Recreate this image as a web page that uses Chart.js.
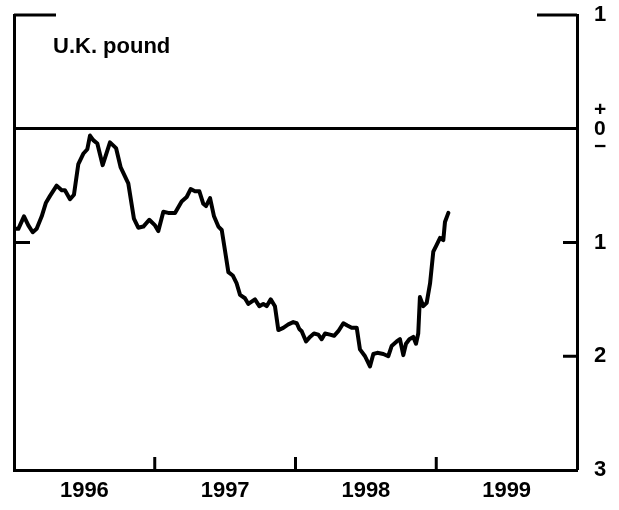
<!DOCTYPE html>
<html>
<head>
<meta charset="utf-8">
<title>U.K. pound</title>
<script src="https://cdn.jsdelivr.net/npm/chart.js@4.4.1/dist/chart.umd.min.js"></script>
<style>
  html, body { margin: 0; padding: 0; background: #fff; }
  #wrap { width: 619px; height: 510px; }
</style>
</head>
<body>
<div id="wrap"><canvas id="chart"></canvas></div>
<script>
// Series: time in decimal years, value in percent
const dates = [
  1996.007, 1996.031, 1996.071, 1996.102, 1996.133, 1996.161, 1996.197, 1996.227, 1996.256, 1996.303,
  1996.339, 1996.362, 1996.398, 1996.426, 1996.457, 1996.492, 1996.521, 1996.540, 1996.563, 1996.592,
  1996.630, 1996.682, 1996.725, 1996.758, 1996.812, 1996.852, 1996.883, 1996.919, 1996.961, 1997.002,
  1997.025, 1997.061, 1997.096, 1997.144, 1997.191, 1997.227, 1997.255, 1997.286, 1997.317, 1997.345,
  1997.364, 1997.393, 1997.421, 1997.452, 1997.476, 1997.499, 1997.523, 1997.554, 1997.582, 1997.606,
  1997.641, 1997.665, 1997.712, 1997.743, 1997.771, 1997.795, 1997.824, 1997.854, 1997.878, 1997.913,
  1997.949, 1997.984, 1998.009, 1998.027, 1998.044, 1998.075, 1998.103, 1998.131, 1998.162, 1998.186,
  1998.210, 1998.245, 1998.274, 1998.304, 1998.340, 1998.368, 1998.399, 1998.435, 1998.458, 1998.494,
  1998.529, 1998.553, 1998.581, 1998.624, 1998.659, 1998.683, 1998.719, 1998.742, 1998.766, 1998.785,
  1998.809, 1998.837, 1998.856, 1998.872, 1998.884, 1998.908, 1998.932, 1998.956, 1998.979, 1999.003,
  1999.027, 1999.050, 1999.062, 1999.086
];
const values = [
  -0.88, -0.88, -0.77, -0.85, -0.91, -0.88, -0.77, -0.65, -0.59, -0.50,
  -0.54, -0.54, -0.62, -0.58, -0.31, -0.22, -0.18, -0.06, -0.10, -0.13,
  -0.32, -0.12, -0.17, -0.34, -0.48, -0.79, -0.87, -0.86, -0.80, -0.85,
  -0.90, -0.73, -0.74, -0.74, -0.64, -0.60, -0.53, -0.55, -0.55, -0.66,
  -0.68, -0.61, -0.77, -0.86, -0.89, -1.07, -1.26, -1.29, -1.36, -1.46,
  -1.49, -1.54, -1.50, -1.56, -1.54, -1.56, -1.50, -1.56, -1.77, -1.75,
  -1.72, -1.70, -1.71, -1.76, -1.78, -1.87, -1.83, -1.80, -1.81, -1.85,
  -1.80, -1.81, -1.82, -1.78, -1.71, -1.73, -1.75, -1.75, -1.94, -2.00,
  -2.09, -1.98, -1.97, -1.98, -2.00, -1.91, -1.87, -1.85, -1.99, -1.89,
  -1.85, -1.83, -1.89, -1.80, -1.48, -1.56, -1.53, -1.36, -1.08, -1.02,
  -0.96, -0.98, -0.82, -0.74
];

// Axis ticks
const yearLabels = [1996.5, 1997.5, 1998.5, 1999.5];   // labels sit mid-year
const yearTicks = [1997, 1998, 1999];                  // tick marks at year boundaries
const yTicks = [-3, -2, -1, 0, 1];
const rightInnerTicks = [-1, -2];
const leftInnerTicks = [-1];

const INK = '#000';
const FONT = '"Liberation Sans", Arial, Helvetica, sans-serif';

// Inward tick marks, partial top rules and the panel title
const frameMarks = {
  id: 'frameMarks',
  afterDraw(chart) {
    const { ctx, chartArea: a, scales: { x, y } } = chart;
    const top = y.getPixelForValue(1);
    ctx.save();
    ctx.strokeStyle = INK;
    ctx.lineWidth = 3;
    ctx.beginPath();
    ctx.moveTo(a.left, top);
    ctx.lineTo(a.left + 42, top);
    ctx.moveTo(a.right - 40, top);
    ctx.lineTo(a.right, top);
    rightInnerTicks.forEach(v => {
      const py = y.getPixelForValue(v);
      ctx.moveTo(a.right - 14, py);
      ctx.lineTo(a.right, py);
    });
    leftInnerTicks.forEach(v => {
      const py = y.getPixelForValue(v);
      ctx.moveTo(a.left, py);
      ctx.lineTo(a.left + 16, py);
    });
    yearTicks.forEach(v => {
      const px = x.getPixelForValue(v);
      ctx.moveTo(px, a.bottom);
      ctx.lineTo(px, a.bottom - 13);
    });
    ctx.stroke();

    ctx.fillStyle = INK;
    ctx.font = 'bold 22px ' + FONT;
    ctx.textBaseline = 'alphabetic';
    ctx.fillText('U.K. pound', a.left + 39, top + 38);
    ctx.restore();
  }
};

new Chart(document.getElementById('chart'), {
  type: 'line',
  data: {
    datasets: [{
      data: dates.map((d, i) => ({ x: d, y: values[i] })),
      borderColor: INK,
      borderWidth: 4,
      borderJoinStyle: 'round',
      borderCapStyle: 'round',
      pointRadius: 0,
      tension: 0,
      xAxisID: 'x',
      yAxisID: 'y'
    }]
  },
  options: {
    responsive: true,
    maintainAspectRatio: false,
    animation: false,
    events: [],
    layout: { padding: { top: 15, left: 0, right: 0, bottom: 0 } },
    plugins: { legend: { display: false }, tooltip: { enabled: false } },
    scales: {
      x: {
        type: 'linear',
        position: 'bottom',
        min: 1996,
        max: 2000,
        afterBuildTicks: s => { s.ticks = yearLabels.map(v => ({ value: v })); },
        afterFit: s => { s.height = 40; s.paddingLeft = 0; s.paddingRight = 0; },
        grid: { display: false, drawTicks: false },
        border: { display: true, color: INK, width: 3 },
        ticks: {
          autoSkip: false,
          maxRotation: 0,
          padding: 10,
          color: INK,
          font: { family: FONT, size: 22, weight: 'bold', lineHeight: 1 },
          callback: v => String(Math.floor(v))
        }
      },
      y: {
        type: 'linear',
        position: 'right',
        min: -3,
        max: 1,
        afterBuildTicks: s => { s.ticks = yTicks.map(v => ({ value: v })); },
        afterFit: s => { s.width = 42; s.paddingTop = 0; s.paddingBottom = 0; },
        grid: {
          drawTicks: false,
          color: c => (c.tick && c.tick.value === 0 ? INK : 'rgba(0,0,0,0)'),
          lineWidth: c => (c.tick && c.tick.value === 0 ? 3 : 0)
        },
        border: { display: true, color: INK, width: 3 },
        ticks: {
          padding: 17,
          color: INK,
          font: c => ({
            family: FONT,
            size: c.tick && c.tick.value === 0 ? 21 : 22,
            weight: 'bold',
            lineHeight: c.tick && c.tick.value === 0 ? 0.86 : 1
          }),
          callback: v => (v === 0 ? ['+', '0', '\u2212'] : String(Math.abs(v)))
        }
      },
      yLeft: {
        type: 'linear',
        position: 'left',
        min: -3,
        max: 1,
        afterFit: s => { s.width = 14; s.paddingTop = 0; s.paddingBottom = 0; },
        grid: { display: false, drawTicks: false },
        border: { display: true, color: INK, width: 3 },
        ticks: { display: false }
      }
    }
  },
  plugins: [frameMarks]
});
</script>
</body>
</html>
